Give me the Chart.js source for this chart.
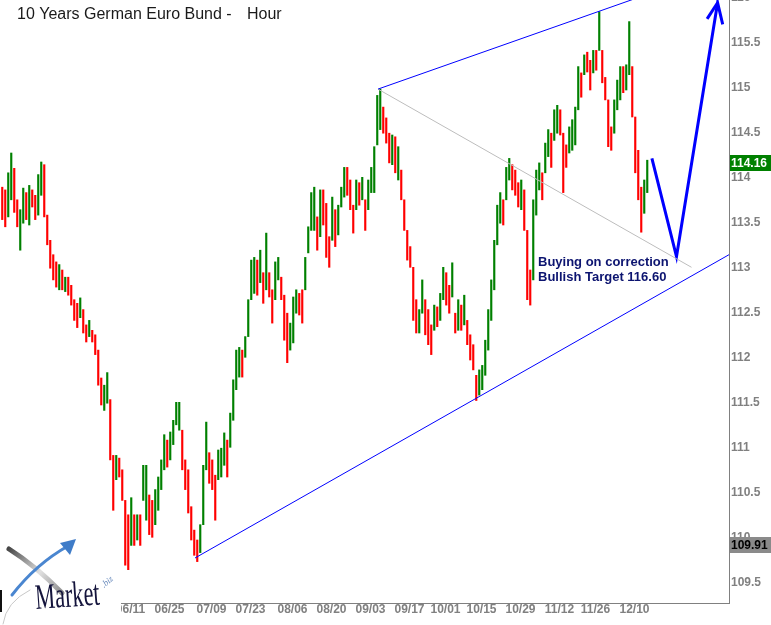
<!DOCTYPE html>
<html>
<head>
<meta charset="utf-8">
<script src="https://cdn.jsdelivr.net/npm/chart.js@4.4.1/dist/chart.umd.min.js"></script>
<style>
html, body { margin: 0; padding: 0; background: #fff; }
</style>
</head>
<body>
<canvas id="bund" width="771" height="625"></canvas>
<script>
// one column = half a trading day of hourly bars
const closes = [
  113.69, 113.50, 113.80, 114.27, 113.75, 113.50, 113.69, 113.80, 113.58, 113.80,
  113.69, 113.58, 113.80, 114.10, 113.64, 113.30, 113.06, 112.97, 112.86, 112.91,
  112.80, 112.86, 112.75, 112.64, 112.53, 112.39, 112.58, 112.36, 112.21, 112.36,
  112.21, 112.08, 111.86, 111.58, 111.66, 111.75, 111.19, 110.53, 110.80, 110.75,
  110.53, 109.97, 109.70, 110.19, 110.03, 110.14, 110.03, 110.64, 110.75, 110.30,
  110.14, 110.36, 110.58, 110.75, 111.03, 110.91, 111.03, 111.25, 111.41, 111.50,
  111.08, 110.75, 110.53, 110.14, 109.91, 109.76, 110.03, 110.53, 111.08, 110.80,
  110.69, 110.41, 110.75, 110.86, 111.03, 110.86, 111.30, 111.64, 111.91, 111.97,
  111.91, 112.14, 112.41, 112.86, 112.91, 112.75, 113.06, 112.69, 113.30, 112.75,
  112.47, 112.97, 113.06, 112.75, 112.64, 112.03, 112.36, 112.64, 112.75, 112.58,
  112.44, 113.03, 113.30, 113.69, 113.80, 113.36, 113.75, 113.58, 113.25, 113.14,
  113.58, 113.36, 113.58, 113.80, 114.03, 113.91, 113.69, 113.50, 113.91, 113.80,
  113.97, 113.53, 113.80, 114.03, 114.25, 114.75, 114.97, 114.58, 114.44, 114.30,
  114.41, 114.19, 114.30, 113.91, 113.58, 113.19, 113.14, 112.53, 112.36, 112.47,
  112.80, 112.41, 112.25, 112.14, 112.53, 112.41, 112.64, 112.91, 112.69, 112.58,
  112.97, 112.36, 112.47, 112.41, 112.58, 112.30, 112.08, 111.91, 111.55, 111.75,
  111.80, 112.03, 112.25, 112.69, 113.14, 113.58, 113.69, 113.55, 113.97, 114.14,
  113.97, 113.86, 113.75, 113.91, 113.64, 112.86, 112.60, 113.53, 113.91, 114.08,
  113.80, 114.19, 114.41, 114.30, 114.47, 114.69, 114.58, 114.25, 114.19, 114.41,
  114.55, 114.69, 115.08, 114.97, 115.30, 115.25, 115.06, 115.28, 115.19, 115.80,
  115.25, 114.97, 114.53, 114.36, 114.64, 114.91, 115.17, 115.10, 115.21, 115.70,
  115.03, 114.30, 113.91, 113.42, 113.80, 114.16
]
const highs = [
  113.89, 113.86, 114.05, 114.27, 114.10, 113.75, 113.64, 113.88, 113.83, 113.91,
  113.86, 113.80, 114.03, 114.17, 114.14, 113.58, 113.30, 113.14, 113.06, 113.03,
  112.97, 112.89, 112.89, 112.80, 112.64, 112.60, 112.66, 112.53, 112.36, 112.41,
  112.30, 112.25, 112.08, 111.77, 111.69, 111.83, 111.53, 110.91, 110.91, 110.88,
  110.75, 110.41, 110.25, 110.44, 110.25, 110.25, 110.25, 110.80, 110.80, 110.47,
  110.41, 110.53, 110.67, 110.86, 111.14, 111.08, 111.17, 111.30, 111.50, 111.50,
  111.19, 110.86, 110.75, 110.34, 110.08, 109.97, 110.14, 110.80, 111.28, 110.94,
  110.86, 110.69, 110.97, 110.99, 111.16, 111.08, 111.38, 111.75, 112.08, 112.11,
  112.08, 112.23, 112.64, 113.08, 113.11, 113.08, 113.19, 112.94, 113.38, 112.94,
  112.75, 113.06, 113.11, 112.89, 112.69, 112.49, 112.38, 112.67, 112.75, 112.71,
  112.75, 113.11, 113.45, 113.83, 113.89, 113.56, 113.86, 113.86, 113.71, 113.34,
  113.78, 113.64, 113.69, 113.89, 114.11, 114.11, 113.97, 113.69, 113.97, 113.94,
  114.00, 113.75, 113.97, 114.11, 114.34, 114.91, 114.98, 114.78, 114.66, 114.49,
  114.47, 114.45, 114.34, 114.08, 113.75, 113.41, 113.23, 113.00, 112.64, 112.53,
  112.86, 112.64, 112.53, 112.36, 112.58, 112.56, 112.71, 113.00, 112.94, 112.80,
  113.05, 112.49, 112.64, 112.58, 112.69, 112.41, 112.25, 112.14, 111.80, 111.86,
  111.91, 112.19, 112.53, 112.86, 113.30, 113.69, 113.83, 113.75, 114.11, 114.21,
  114.14, 114.08, 113.94, 113.97, 113.86, 113.41, 112.97, 113.75, 114.08, 114.16,
  114.05, 114.38, 114.53, 114.49, 114.75, 114.80, 114.75, 114.49, 114.36, 114.56,
  114.64, 114.78, 115.23, 115.16, 115.36, 115.39, 115.30, 115.41, 115.41, 115.84,
  115.41, 115.11, 114.86, 114.56, 114.86, 115.08, 115.23, 115.23, 115.25, 115.73,
  115.23, 114.67, 114.30, 113.89, 113.97, 114.19
]
const lows = [
  113.53, 113.45, 113.56, 113.75, 113.61, 113.45, 113.19, 113.49, 113.53, 113.47,
  113.67, 113.53, 113.58, 113.80, 113.56, 113.25, 112.99, 112.86, 112.78, 112.75,
  112.75, 112.73, 112.69, 112.58, 112.41, 112.33, 112.44, 112.27, 112.17, 112.23,
  112.17, 112.03, 111.69, 111.47, 111.41, 111.49, 110.86, 110.30, 110.64, 110.67,
  110.41, 109.69, 109.64, 109.91, 109.91, 109.97, 109.91, 110.41, 110.19, 110.03,
  110.00, 110.14, 110.30, 110.53, 110.75, 110.78, 110.86, 111.03, 111.25, 111.19,
  110.75, 110.53, 110.27, 109.97, 109.80, 109.73, 109.83, 110.14, 110.75, 110.60,
  110.53, 110.19, 110.64, 110.67, 110.80, 110.67, 111.00, 111.30, 111.64, 111.78,
  111.78, 112.00, 112.23, 112.64, 112.71, 112.69, 112.83, 112.60, 112.75, 112.67,
  112.38, 112.64, 112.86, 112.64, 112.19, 111.94, 112.08, 112.16, 112.49, 112.47,
  112.38, 112.75, 113.16, 113.41, 113.41, 113.19, 113.34, 113.47, 113.11, 113.00,
  113.30, 113.23, 113.36, 113.67, 113.78, 113.80, 113.64, 113.38, 113.64, 113.69,
  113.75, 113.41, 113.64, 113.83, 113.83, 114.36, 114.53, 114.49, 114.38, 114.16,
  114.14, 114.05, 113.97, 113.75, 113.41, 113.08, 113.00, 112.41, 112.27, 112.27,
  112.49, 112.25, 112.14, 112.03, 112.30, 112.34, 112.41, 112.64, 112.58, 112.49,
  112.67, 112.27, 112.30, 112.30, 112.36, 112.14, 111.97, 111.86, 111.52, 111.58,
  111.64, 111.80, 112.08, 112.41, 112.75, 113.25, 113.49, 113.47, 113.75, 113.97,
  113.86, 113.80, 113.67, 113.64, 113.41, 112.64, 112.58, 112.86, 113.58, 113.86,
  113.75, 114.05, 114.23, 114.11, 114.41, 114.49, 114.47, 113.83, 114.11, 114.27,
  114.30, 114.36, 114.75, 114.89, 115.14, 115.17, 114.97, 115.16, 115.19, 115.41,
  115.05, 114.86, 114.34, 114.30, 114.49, 114.75, 114.86, 114.94, 114.97, 115.14,
  114.67, 114.05, 113.75, 113.39, 113.60, 113.83
]
const firstOpen = 113.85

const dateLabels = ['06/11', '06/25', '07/09', '07/23', '08/06', '08/20', '09/03', '09/17', '10/01', '10/15', '10/29', '11/12', '11/26', '12/10']
const dateSlots = [43, 56, 70, 83, 97, 110, 123, 136, 148, 160, 173, 186, 198, 211]
const slotCount = 243

const supportPrice = 109.91
const topTick = 116

// drawn lines, x in column slots, y in price
const upperX = [125.5, 215], upperY = [114.98, 116.03]
const lowerX = [64.5, 242.5], lowerY = [109.77, 113.14]
const midX = [125.5, 230], midY = [114.98, 113.00]
const arrowX = [216.8, 225, 238.7, 240.4], arrowY = [114.21, 113.12, 115.94, 115.70]
const wingX = [235.2, 238.7], wingY = [115.76, 115.94]

const labels = []
for (let i = 0; i < slotCount; i++) labels.push('')
dateSlots.forEach((s, k) => { labels[s] = dateLabels[k] })

const ranges = closes.map((c, i) => [lows[i], highs[i]])
const colors = closes.map((c, i) => c >= (i === 0 ? firstOpen : closes[i - 1]) ? '#008000' : '#ff0000')
const pts = (xs, ys) => xs.map((x, i) => ({ x: x, y: ys[i] }))

function trend(xs, ys, color, width) {
  return {
    type: 'line', data: pts(xs, ys), xAxisID: 'xl',
    borderColor: color, borderWidth: width, pointRadius: 0, tension: 0, fill: false, order: 0
  }
}

const FONT = '"Liberation Sans", Arial, sans-serif'
Chart.defaults.font.family = FONT

function drawLogo(ctx) {
  ctx.save()
  ctx.fillStyle = '#fff'
  ctx.fillRect(0, 538, 121, 87)
  let g = ctx.createLinearGradient(8, 548, 64, 594)
  g.addColorStop(0, '#444')
  g.addColorStop(0.55, '#e0e0e0')
  g.addColorStop(1, '#888')
  ctx.strokeStyle = g
  ctx.lineWidth = 5
  ctx.lineCap = 'round'
  ctx.beginPath()
  ctx.moveTo(9, 549)
  ctx.quadraticCurveTo(36, 566, 62, 593)
  ctx.stroke()
  ctx.strokeStyle = '#4a86d0'
  ctx.lineWidth = 3
  ctx.beginPath()
  ctx.moveTo(12, 595)
  ctx.quadraticCurveTo(36, 564, 68, 546)
  ctx.stroke()
  ctx.fillStyle = '#3f7cc8'
  ctx.beginPath()
  ctx.moveTo(76, 539)
  ctx.lineTo(60, 543)
  ctx.lineTo(70, 555)
  ctx.closePath()
  ctx.fill()
  ctx.strokeStyle = '#c8c8c8'
  ctx.lineWidth = 1
  ctx.beginPath()
  ctx.moveTo(3, 624)
  ctx.quadraticCurveTo(6, 602, 30, 590)
  ctx.stroke()
  ctx.fillStyle = '#111'
  ctx.fillRect(0, 590, 2, 22)
  ctx.fillStyle = '#14143c'
  ctx.font = '24px "Liberation Serif", serif'
  ctx.save()
  ctx.translate(36, 609)
  ctx.rotate(-0.07)
  ctx.scale(0.93, 1.5)
  ctx.fillText('Market', 0, 0)
  ctx.restore()
  ctx.fillStyle = '#6688bb'
  ctx.font = 'italic 9px "Liberation Serif", serif'
  ctx.save()
  ctx.translate(104, 588)
  ctx.rotate(-0.7)
  ctx.fillText('.biz', 0, 0)
  ctx.restore()
  ctx.restore()
}

const overlay = {
  id: 'overlay',
  afterDraw(chart) {
    const ctx = chart.ctx
    const y = chart.scales.y
    ctx.save()
    ctx.fillStyle = '#1a1a1a'
    ctx.font = '16px ' + FONT
    ctx.textBaseline = 'alphabetic'
    ctx.fillText('10 Years German Euro Bund -', 17, 19)
    ctx.fillText('Hour', 247, 19)

    ctx.fillStyle = '#0c1470'
    ctx.font = 'bold 13px ' + FONT
    ctx.fillText('Buying on correction', 538, 266)
    ctx.fillText('Bullish Target 116.60', 538, 281)

    ctx.font = 'bold 12px ' + FONT
    const last = closes[closes.length - 1]
    let py = Math.round(y.getPixelForValue(last))
    ctx.fillStyle = '#008000'
    ctx.fillRect(730, py - 8, 41, 16)
    ctx.fillStyle = '#fff'
    ctx.textBaseline = 'middle'
    ctx.fillText(last.toFixed(2), 731, py + 1)

    py = Math.round(y.getPixelForValue(supportPrice))
    ctx.fillStyle = '#8a8a8a'
    ctx.fillRect(730, py - 8, 41, 16)
    ctx.fillStyle = '#000'
    ctx.fillText(supportPrice.toFixed(2), 731, py + 1)
    ctx.restore()

    drawLogo(ctx)
  }
}

new Chart(document.getElementById('bund'), {
  type: 'bar',
  data: {
    labels: labels,
    datasets: [
      trend(upperX, upperY, '#0000ff', 1),
      trend(lowerX, lowerY, '#0000ff', 1),
      trend(midX, midY, '#bdbdbd', 1),
      trend(arrowX, arrowY, '#0000ff', 3),
      trend(wingX, wingY, '#0000ff', 3),
      {
        data: ranges,
        backgroundColor: colors,
        borderWidth: 0,
        barPercentage: 1,
        categoryPercentage: 1,
        order: 2
      }
    ]
  },
  options: {
    responsive: false,
    animation: false,
    layout: { padding: 0 },
    plugins: { legend: { display: false }, tooltip: { enabled: false } },
    scales: {
      x: {
        grid: { display: false, drawTicks: false },
        border: { display: true, color: '#808080' },
        ticks: { autoSkip: false, maxRotation: 0, minRotation: 0, color: '#808080', font: { size: 12, weight: 'bold', lineHeight: 1 }, padding: 1 },
        afterFit: s => { s.height = 22; s.paddingLeft = 0; s.paddingRight = 0 }
      },
      xl: { type: 'linear', display: false, offset: false, grid: { offset: false }, min: -0.5, max: 242.5 },
      y: {
        position: 'right',
        min: 109.27,
        max: 115.97,
        grid: { display: false, drawTicks: false },
        border: { display: true, color: '#808080' },
        ticks: {
          stepSize: 0.5, includeBounds: false, color: '#808080', padding: 2,
          font: { size: 12, weight: 'bold' },
          callback: v => String(+v.toFixed(1))
        },
        afterBuildTicks: s => { s.ticks.push({ value: topTick }) },
        afterFit: s => { s.width = 42; s.paddingTop = 0; s.paddingBottom = 0 }
      }
    }
  },
  plugins: [overlay]
})
</script>
</body>
</html>
